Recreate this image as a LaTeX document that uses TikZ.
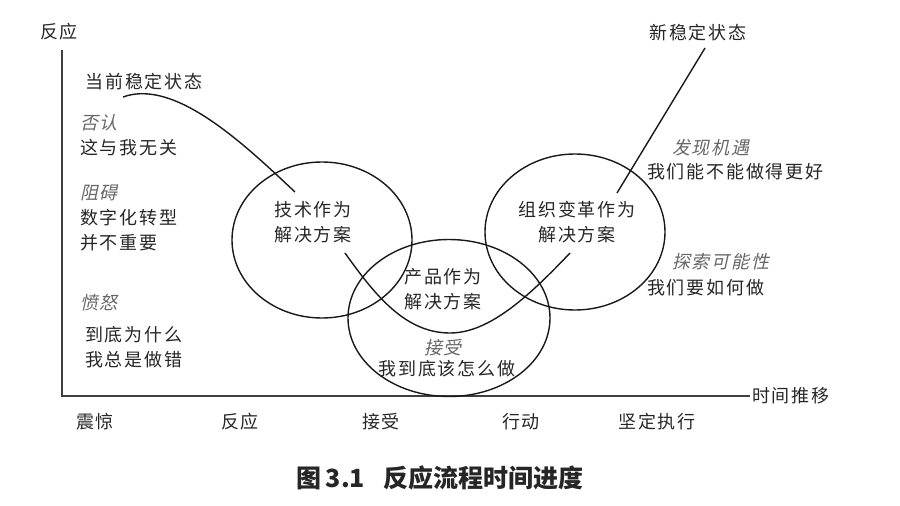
\documentclass[tikz,border=0pt]{standalone}
\usepackage{fontspec}
\usetikzlibrary{shapes.geometric}
\newfontfamily\cjk{Noto Sans CJK SC}[LetterSpace=10]
\newfontfamily\cjkit{Noto Sans CJK SC}[FakeSlant=0.22,LetterSpace=10]
\newfontfamily\cjkcap{Noto Sans CJK SC}
\begin{document}
\begin{tikzpicture}[x=1pt,y=-1pt,
  lbl/.style={inner sep=0pt, text=black!85, font=\cjk\fontsize{18}{24.5}\selectfont},
  itl/.style={inner sep=0pt, text=black!60, font=\cjkit\fontsize{18}{24.5}\selectfont},
  ring/.style={draw=black!90, line width=1.4pt, ellipse, inner sep=0pt},
  axis/.style={draw=black!75, line width=2pt},
  flow/.style={draw=black!90, line width=1.4pt}]
\useasboundingbox (0,0) rectangle (900,506);
% axes
\coordinate (ytop) at (62,50);
\coordinate (o) at (62,396);
\coordinate (xend) at (750,396);
\draw[axis] (ytop) -- (o) -- (xend);
\node[lbl] (yl) at (59,32) {反应};
\node[lbl, anchor=west] (xl) at (752,396) {时间推移};
% circles
\node[ring, minimum width=180pt, minimum height=156pt] (c1) at (322,240) {};
\node[ring, minimum width=202pt, minimum height=157pt] (c2) at (449,318) {};
\node[ring, minimum width=180pt, minimum height=156pt] (c3) at (575,232) {};
% circle texts
\node[lbl, align=center] (t1) at (313,222) {技术作为\\解决方案};
\node[lbl, align=center] (t2) at (443,289) {产品作为\\解决方案};
\node[itl] (t2a) at (443,348) {接受};
\node[lbl] (t2b) at (447,369) {我到底该怎么做};
\node[lbl, align=center] (t3) at (577,222) {组织变革作为\\解决方案};
% states
\node[lbl] (cur) at (144,82) {当前稳定状态};
\node[lbl] (new) at (698,33) {新稳定状态};
% left texts
\node[itl, anchor=west] (l1a) at (80,123) {否认};
\node[lbl, anchor=west] (l1b) at (80,148) {这与我无关};
\node[itl, anchor=west] (l2a) at (80,193) {阻碍};
\node[lbl, anchor=west, align=left] (l2b) at (80,230) {数字化转型\\并不重要};
\node[itl, anchor=west] (l3a) at (80,303) {愤怒};
\node[lbl, anchor=west, align=left] (l3b) at (85,347) {到底为什么\\我总是做错};
% right texts
\node[itl, anchor=west] (r1a) at (672,148) {发现机遇};
\node[lbl, anchor=west] (r1b) at (647,172) {我们能不能做得更好};
\node[itl, anchor=west] (r2a) at (672,262) {探索可能性};
\node[lbl, anchor=west] (r2b) at (647,288) {我们要如何做};
% bottom stages
\node[lbl] (s1) at (95,422) {震惊};
\node[lbl] (s2) at (240,422) {反应};
\node[lbl] (s3) at (381,422) {接受};
\node[lbl] (s4) at (521,422) {行动};
\node[lbl] (s5) at (657,422) {坚定执行};
% caption
\node[inner sep=0pt, text=black!85, font=\cjkcap\bfseries\fontsize{25}{28}\selectfont] (cap) at (440,478) {图\,3.1\hspace{18pt}反应流程时间进度};
% flow curve
\coordinate (p0) at (123,97);
\coordinate (p1) at (295,192);
\coordinate (p2) at (345,253);
\coordinate (pb) at (450,333);
\coordinate (p3) at (570,253);
\coordinate (p4) at (617,193);
\coordinate (p5) at (705,48);
\draw[flow] (p0) .. controls (175,78) and (245,145) .. (p1);
\draw[flow] (p2) .. controls (375,295) and (405,333) .. (pb) .. controls (490,333) and (530,295) .. (p3);
\draw[flow] (p4) -- (p5);
\end{tikzpicture}
\end{document}
